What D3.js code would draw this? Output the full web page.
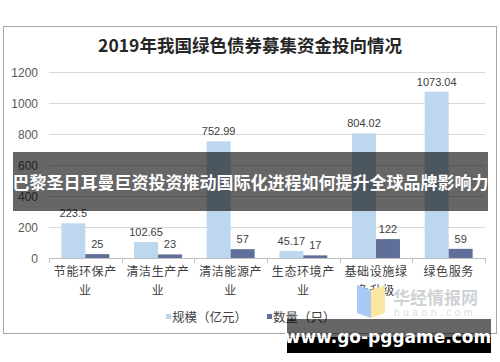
<!DOCTYPE html>
<html><head><meta charset="utf-8">
<script src="https://cdn.jsdelivr.net/npm/d3@7"></script>
<style>body{margin:0;background:#fff}svg{display:block}</style>
</head><body>
<script>
const title = "2019年我国绿色债券募集资金投向情况";
const categories = [["节能环保产","业"],["清洁生产产","业"],["清洁能源产","业"],["生态环境产","业"],["基础设施绿","色升级"],["绿色服务"]];
const scaleValues = [223.5, 102.65, 752.99, 45.17, 804.02, 1073.04];
const scaleLabels = ["223.5","102.65","752.99","45.17","804.02","1073.04"];
const countValues = [25, 23, 57, 17, 122, 59];
const yTicks = [0, 200, 400, 600, 800, 1000, 1200];
const seriesNames = ["规模（亿元）", "数量（只）"];
const colors = ["#bdd7ee", "#5f6f99"];
const bannerText = "巴黎圣日耳曼巨资投资推动国际化进程如何提升全球品牌影响力";
const siteText = "www.go-pggame.com";

const W = 500, H = 362;
const svg = d3.select("body").append("svg").attr("width", W).attr("height", H);
const cjk = "'Noto Sans CJK SC','Noto Sans',sans-serif";
const num = "'Liberation Sans',Arial,sans-serif";

// frame
svg.append("rect").attr("x", 3.5).attr("y", 26.5).attr("width", 493).attr("height", 307)
  .attr("fill", "#fff").attr("stroke", "#a6a6a6").attr("stroke-width", 1);

// title
svg.append("text").attr("x", 250).attr("y", 52).attr("text-anchor", "middle")
  .attr("font-family", cjk).attr("font-weight", "bold").attr("font-size", 17.5)
  .attr("fill", "#262626").text(title);

const x0 = d3.scaleBand().domain(d3.range(categories.length)).range([49, 485]).paddingInner(0.34).paddingOuter(0.17);
const x1 = d3.scaleBand().domain([0, 1]).range([0, x0.bandwidth()]);
const y = d3.scaleLinear().domain([0, 1200]).range([258, 72]);

// gridlines
svg.append("g").selectAll("line").data(yTicks.filter(d => d > 0)).join("line")
  .attr("x1", 49).attr("x2", 485).attr("y1", d => Math.round(y(d)) + 0.5).attr("y2", d => Math.round(y(d)) + 0.5)
  .attr("stroke", "#d9d9d9");

// y labels
svg.append("g").selectAll("text").data(yTicks).join("text")
  .attr("x", 38).attr("y", d => y(d) + 4.5).attr("text-anchor", "end")
  .attr("font-family", num).attr("font-size", 12).attr("fill", "#595959").text(d => d);

// bars
const g = svg.append("g");
categories.forEach((c, i) => {
  const vals = [scaleValues[i], countValues[i]];
  const labs = [scaleLabels[i], String(countValues[i])];
  vals.forEach((v, s) => {
    const bx = x0(i) + x1(s);
    g.append("rect").attr("x", bx).attr("y", y(v)).attr("width", x1.bandwidth()).attr("height", y(0) - y(v))
      .attr("fill", colors[s]);
    g.append("text").attr("x", bx + x1.bandwidth() / 2).attr("y", y(v) - 6).attr("text-anchor", "middle")
      .attr("font-family", num).attr("font-size", 11).attr("fill", "#404040").text(labs[s]);
  });
});

// x axis
const ax = svg.append("g");
ax.append("line").attr("x1", 49).attr("x2", 485).attr("y1", 258.5).attr("y2", 258.5).attr("stroke", "#bfbfbf");
const bounds = d3.range(categories.length + 1).map(i => 49 + i * (436 / categories.length));
ax.selectAll("line.t").data(bounds).join("line").attr("class", "t")
  .attr("x1", d => Math.round(d) + 0.5).attr("x2", d => Math.round(d) + 0.5).attr("y1", 258).attr("y2", 263)
  .attr("stroke", "#bfbfbf");
categories.forEach((c, i) => {
  const cx = x0(i) + x0.bandwidth() / 2;
  c.forEach((line, k) => {
    ax.append("text").attr("x", cx).attr("y", 276 + k * 19).attr("text-anchor", "middle")
      .attr("font-family", cjk).attr("font-size", 12).attr("letter-spacing", 0.6)
      .attr("fill", "#404040").text(line);
  });
});

// watermark huaon
const wm = svg.append("g");
wm.append("path").attr("d", "M357,285 L371,290 L371,318 L357,313 Z").attr("fill", "#a9c9f2");
wm.append("path").attr("d", "M371,290 L385,285 L385,313 L371,318 Z").attr("fill", "#fbe7a1");
wm.append("text").attr("x", 393).attr("y", 304).attr("font-family", cjk).attr("font-weight", "bold")
  .attr("font-size", 17).attr("fill", "#c9ccd0").attr("fill-opacity", 0.9).text("华经情报网");
wm.append("text").attr("x", 394).attr("y", 316).attr("font-family", num)
  .attr("font-size", 10).attr("letter-spacing", 3.6).attr("fill", "#dcdcdc").text("huaon.com");

// legend
const lg = svg.append("g");
[[166, 0], [267, 1]].forEach(([lx, s]) => {
  lg.append("rect").attr("x", lx).attr("y", 314).attr("width", 5).attr("height", 5).attr("fill", colors[s]);
  lg.append("text").attr("x", lx + 6).attr("y", 321.5).attr("font-family", cjk).attr("font-size", 12.5)
    .attr("fill", "#404040").text(seriesNames[s]);
});

// banner overlay
svg.append("rect").attr("x", 13).attr("y", 152).attr("width", 475).attr("height", 59).attr("fill", "rgba(0,0,0,0.6)");
svg.append("text").attr("x", 250.5).attr("y", 189).attr("text-anchor", "middle")
  .attr("font-family", cjk).attr("font-weight", "bold").attr("font-size", 17)
  .attr("fill", "#fff").text(bannerText);

// site box
svg.append("rect").attr("x", 287).attr("y", 319).attr("width", 204).attr("height", 18).attr("fill", "rgba(0,0,0,0.6)");
svg.append("rect").attr("x", 287).attr("y", 337).attr("width", 204).attr("height", 16).attr("fill", "#000");
svg.append("text").attr("x", 388).attr("y", 343).attr("text-anchor", "middle")
  .attr("font-family", "'DejaVu Sans',sans-serif").attr("font-weight", "bold").attr("font-size", 17)
  .attr("fill", "#fff").text(siteText);
</script>
</body></html>
